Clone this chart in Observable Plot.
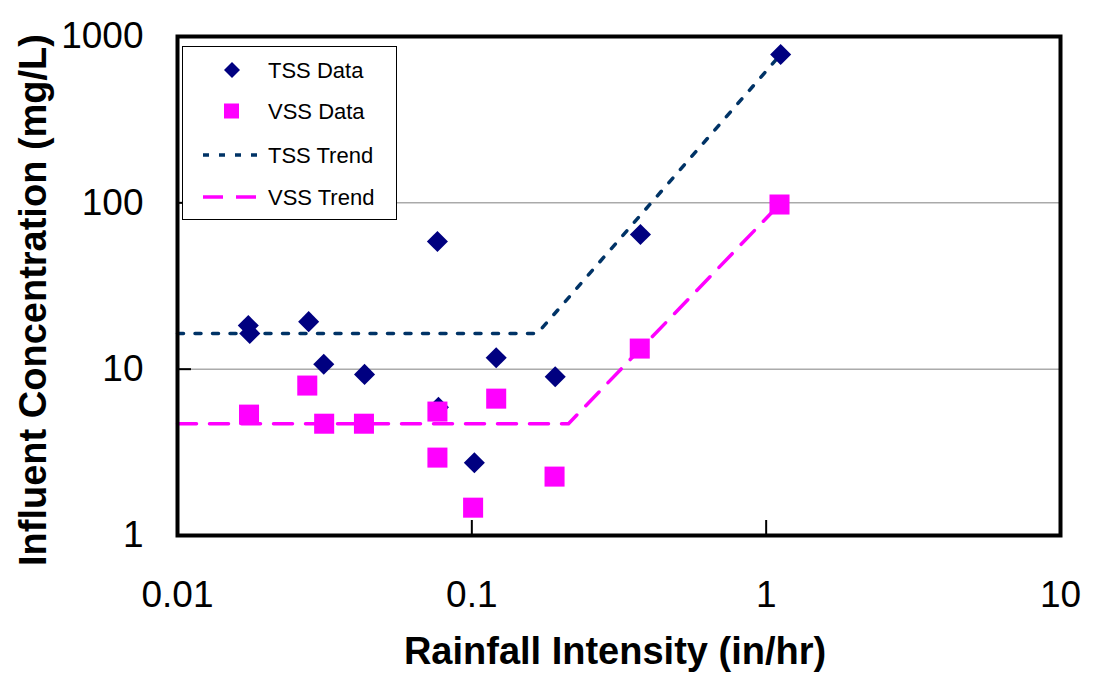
<!DOCTYPE html>
<html>
<head>
<meta charset="utf-8">
<script src="https://cdn.jsdelivr.net/npm/d3@7"></script>
<script src="https://cdn.jsdelivr.net/npm/@observablehq/plot@0.6"></script>
<style>
  html, body { margin: 0; padding: 0; background: #fff; }
  #chart { position: relative; width: 1097px; height: 689px; }
</style>
</head>
<body>
<div id="chart"></div>
<script>
// ---- data ----
const tssX = [0.0174, 0.0176, 0.0279, 0.0314, 0.0432, 0.0764, 0.0770, 0.102, 0.121, 0.192, 0.374, 1.12];
const tssY = [18.3, 16.4, 19.3, 10.7, 9.3, 58.5, 5.9, 2.74, 11.7, 9.0, 64.5, 780];
const vssX = [0.0175, 0.0276, 0.0315, 0.0430, 0.0764, 0.0764, 0.121, 0.101, 0.191, 0.372, 1.11];
const vssY = [5.33, 7.97, 4.70, 4.70, 5.56, 2.94, 6.65, 1.47, 2.26, 13.3, 97.7];
const tssTrendX = [0.01, 0.167, 1.12];
const tssTrendY = [16.4, 16.4, 780];
const vssTrendX = [0.01, 0.213, 1.11];
const vssTrendY = [4.7, 4.7, 97.7];
const xTicks = [0.01, 0.1, 1, 10];
const yTicks = [1, 10, 100, 1000];
const xInnerTicks = [0.1, 1];
const yInnerTicks = [10, 100];
const gridY = [10, 100];
const legendLabels = ["TSS Data", "VSS Data", "TSS Trend", "VSS Trend"];
const xTitle = "Rainfall Intensity (in/hr)";
const yTitle = "Influent Concentration (mg/L)";

const tss = tssX.map((x, i) => ({x, y: tssY[i]}));
const vss = vssX.map((x, i) => ({x, y: vssY[i]}));
const tssTrend = tssTrendX.map((x, i) => ({x, y: tssTrendY[i]}));
const vssTrend = vssTrendX.map((x, i) => ({x, y: vssTrendY[i]}));

const FONT = "'Liberation Sans', Arial, Helvetica, sans-serif";
const W = 1097, H = 689, ML = 177, MR = 37, MT = 36, MB = 154;
const PW = W - ML - MR, PH = H - MT - MB;

const TSS_COLOR = "#000080", VSS_COLOR = "#FF00FF", TSS_TREND = "#003366";

const svg = Plot.plot({
  width: W, height: H,
  marginLeft: ML, marginRight: MR, marginTop: MT, marginBottom: MB,
  style: {fontFamily: FONT, background: "#fff", color: "#000"},
  x: {type: "log", domain: [0.01, 10]},
  y: {type: "log", domain: [1, 1000]},
  marks: [
    Plot.ruleY(gridY, {stroke: "#808080", strokeWidth: 1}),
    Plot.ruleY(yInnerTicks, {stroke: "#000", strokeWidth: 2, insetRight: PW - 14}),
    Plot.ruleX(xInnerTicks, {stroke: "#000", strokeWidth: 2, insetTop: PH - 15}),
    Plot.axisX({ticks: xTicks, tickFormat: d => String(d), tickSize: 0, tickPadding: 45, fontSize: 37, label: null}),
    Plot.axisY({ticks: yTicks, tickFormat: d => String(d), tickSize: 0, tickPadding: 34, fontSize: 37, label: null}),
    Plot.line(tssTrend, {x: "x", y: "y", stroke: TSS_TREND, strokeWidth: 3.5, strokeDasharray: "6,11.5"}),
    Plot.line(vssTrend, {x: "x", y: "y", stroke: VSS_COLOR, strokeWidth: 3.5, strokeDasharray: "19,13"}),
    Plot.dot(tss, {x: "x", y: "y", symbol: "diamond2", r: 9.5, fill: TSS_COLOR, stroke: "none"}),
    Plot.dot(vss, {x: "x", y: "y", symbol: "square", r: 11.3, fill: VSS_COLOR, stroke: "none"}),
    Plot.frame({stroke: "#000", strokeWidth: 4}),
    Plot.text([xTitle], {frameAnchor: "bottom", dx: -4, dy: 128, fontSize: 38, fontWeight: "bold", fill: "#000"}),
    Plot.text([yTitle], {frameAnchor: "left", textAnchor: "middle", lineAnchor: "middle", dx: -144, dy: 14, rotate: -90, fontSize: 38, fontWeight: "bold", fill: "#000"})
  ]
});

// legend box inside the plot
const lg = d3.select(svg).append("g").attr("font-family", FONT).attr("text-anchor", "start");
lg.append("rect").attr("x", 182.5).attr("y", 46.5).attr("width", 214).attr("height", 173)
  .attr("fill", "#fff").attr("stroke", "#000").attr("stroke-width", 1);
const rowsY = [70, 111, 155, 197];
lg.append("path").attr("d", d3.symbol(d3.symbolDiamond2, 8 * 8 * 2.55)()).attr("transform", `translate(232,${rowsY[0]})`).attr("fill", TSS_COLOR);
lg.append("rect").attr("x", 224).attr("y", rowsY[1] - 7.5).attr("width", 15).attr("height", 15).attr("fill", VSS_COLOR);
lg.append("line").attr("x1", 203).attr("x2", 264).attr("y1", rowsY[2]).attr("y2", rowsY[2])
  .attr("stroke", TSS_TREND).attr("stroke-width", 3.5).attr("stroke-dasharray", "6,10");
lg.append("line").attr("x1", 203).attr("x2", 257).attr("y1", rowsY[3]).attr("y2", rowsY[3])
  .attr("stroke", VSS_COLOR).attr("stroke-width", 3.5).attr("stroke-dasharray", "20,13");
legendLabels.forEach((t, i) => {
  lg.append("text").attr("x", 268).attr("y", rowsY[i]).attr("dy", "0.35em")
    .attr("text-anchor", "start").attr("font-size", 22).attr("fill", "#000").text(t);
});

document.getElementById("chart").appendChild(svg);
</script>
</body>
</html>
